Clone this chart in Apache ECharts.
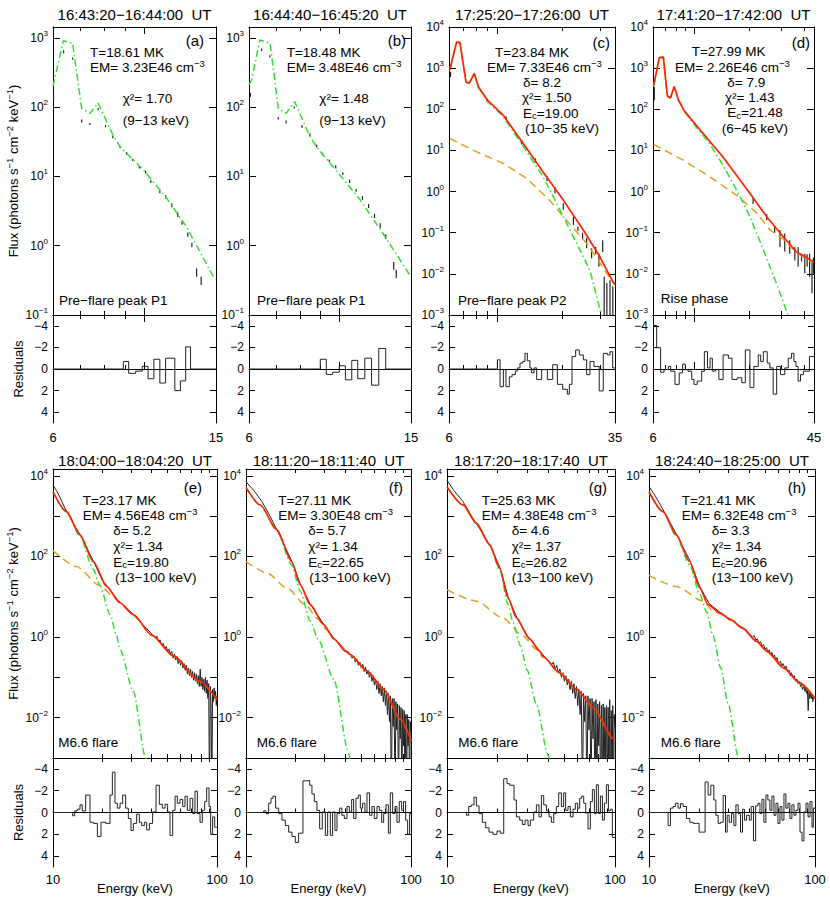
<!DOCTYPE html>
<html><head><meta charset="utf-8">
<script src="https://cdn.jsdelivr.net/npm/echarts@6/dist/echarts.min.js"></script>
<style>html,body{margin:0;padding:0;background:#fff}#c{width:830px;height:903px}</style>
</head><body><div id="c"></div>
<script>
// ---------------- DATA ----------------
const timeRanges = ['16:43:20−16:44:00  UT','16:44:40−16:45:20  UT','17:25:20−17:26:00  UT','17:41:20−17:42:00  UT',
  '18:04:00−18:04:20  UT','18:11:20−18:11:40  UT','18:17:20−18:17:40  UT','18:24:40−18:25:00  UT'];
const panelTags = ['(a)','(b)','(c)','(d)','(e)','(f)','(g)','(h)'];
const phaseLabels = ['Pre−flare peak P1','Pre−flare peak P1','Pre−flare peak P2','Rise phase','M6.6 flare','M6.6 flare','M6.6 flare','M6.6 flare'];
const temps = ['18.61','18.48','23.84','27.99','23.17','27.11','25.63','21.41'];
const ems = ['3.23E46','3.48E46','7.33E46','2.26E46','4.56E48','3.30E48','4.38E48','6.32E48'];
const deltas = [null,null,'8.2','7.9','5.2','5.7','4.6','3.3'];
const chis = ['1.70','1.48','1.50','1.43','1.34','1.34','1.37','1.34'];
const ecs = [null,null,'19.00','21.48','19.80','22.65','26.82','20.96'];
const fitRanges = ['(9−13 keV)','(9−13 keV)','(10−35 keV)','(6−45 keV)','(13−100 keV)','(13−100 keV)','(13−100 keV)','(13−100 keV)'];

// thermal model (green)
const thermA = [[6.0,200],[6.36,908],[6.70,830],[7.05,96],[7.38,81],[7.73,115],[8.4,39.6],[8.75,26.8],[9.97,12.4],[11.3,5.1],[12.7,1.88],[13.7,0.82],[14.7,0.378],[15.0,0.33]];
const thermB = [[6.0,210],[6.09,245],[6.38,930],[6.76,830],[7.08,96],[7.40,81],[7.77,120],[8.39,42],[8.77,27],[9.95,11.1],[11.25,4.6],[12.8,1.5],[14.8,0.4],[15.0,0.36]];
const thermC = [[6.05,880],[6.5,4280],[6.74,4180],[7.19,450],[7.45,430],[7.85,730],[8.21,340],[9.03,155],[10.69,66],[13.2,12.5],[16.3,2.3],[19.9,0.29],[23.3,0.055],[26.8,0.0123],[30.3,0.001],[31,0.0007]];
const thermD = [[6.05,365],[6.49,1790],[6.83,1840],[7.18,203],[7.47,184],[7.82,353],[8.24,166],[8.83,90],[10.3,37],[12.2,14.5],[14.4,4.4],[17.1,1.08],[20.2,0.245],[23.9,0.038],[28.1,0.0059],[32.5,0.001],[33.5,0.0007]];
const thermE = [[10,3900],[12.1,1250],[14.6,320],[17.6,48],[19.3,19],[22.3,3.6],[24.4,1.1],[25.6,0.5],[30.9,0.045],[36.7,0.001],[38,0.0005]];
const thermF = [[10,5100],[12.2,1850],[15.4,440],[18.9,62],[21.3,13.7],[24.5,2.5],[27.5,0.85],[34.0,0.09],[41.9,0.0013],[43,0.0007]];
const thermG = [[10,5300],[12.45,1880],[14.96,660],[17.96,188],[20.6,47],[23.1,6.5],[24.7,2.3],[27.4,0.6],[30,0.15],[34,0.022],[39.9,0.0012],[41,0.0007]];
const thermH = [[10,3900],[12.15,1260],[14.6,320],[17.6,62],[20.2,11.5],[22.2,4.3],[24.3,1.1],[27,0.175],[30,0.022],[34.4,0.0011],[35.5,0.0006]];

// non-thermal model (orange)
const nonthC = [[6.05,19.5],[8.06,9.2],[10.69,4.8],[13.7,2.1],[17.5,0.61],[20.9,0.2],[25.9,0.055],[28.7,0.025],[34.2,0.0062],[35,0.0054]];
const nonthD = [[6.05,14],[8.76,5.8],[12.2,2.3],[17.1,0.81],[22.0,0.3],[26,0.115],[30.6,0.07],[36.2,0.032],[44.7,0.019],[45,0.0188]];
const nonthE = [[10,140],[13.9,56],[19.3,19],[23.9,9.3],[25.9,6.5],[30.9,3.55],[40,1.11],[54.2,0.34],[78.7,0.079],[100,0.028]];
const nonthF = [[10,75],[13.4,39],[17.7,16.5],[23.4,5.8],[27,2.9],[31,1.5],[34,0.88],[42.9,0.36],[54.1,0.143],[68.2,0.05],[86.1,0.0092],[100,0.0027]];
const nonthG = [[10,15],[14.96,7.8],[21.5,3.0],[28.3,1.06],[34,0.5],[37.3,0.32],[46.9,0.13],[58.9,0.051],[74.0,0.018],[98.2,0.003],[100,0.0028]];
const nonthH = [[10,34],[14.6,18],[21.2,7.8],[24.3,4.4],[26.7,3.8],[31,2.65],[36.9,1.62],[44.5,0.77],[51.1,0.44],[65,0.17],[80,0.074],[100,0.03]];

// total model (red)
const totalC = [[6.05,900],[6.5,4300],[6.74,4200],[7.19,460],[7.45,440],[7.85,740],[8.21,350],[9.03,166],[10.69,71],[13.2,14.7],[16.3,3.0],[20.2,0.62],[25.0,0.116],[29.8,0.026],[34.2,0.0065],[35,0.0055]];
const totalD = [[6.05,380],[6.49,1800],[6.83,1850],[7.18,210],[7.47,190],[7.82,360],[8.24,172],[8.83,95],[10.3,41],[14.4,6.9],[20.2,0.9],[24.9,0.245],[30.6,0.08],[36.2,0.034],[44.7,0.02],[45,0.0198]];
const totalE = [[10,4030],[12.1,1290],[14.6,344],[17.6,75],[21.2,18.2],[25.6,7.1],[30.9,3.6],[40,1.12],[54.2,0.34],[78.7,0.079],[100,0.028]];
const totalF = [[10,5180],[12.2,1890],[15.4,457],[18.9,75],[21.3,20],[24.5,6.4],[29.5,2.07],[34.0,0.92],[40.0,0.45],[42.9,0.37],[54.1,0.144],[68.2,0.051],[86.1,0.0093],[100,0.0027]];
const totalG = [[10,5350],[12.45,1900],[14.96,670],[17.96,195],[20.6,51],[23.1,9.3],[25.9,3.0],[31.0,0.9],[35.6,0.45],[37.3,0.33],[46.9,0.13],[58.9,0.051],[74.0,0.018],[98.2,0.003],[100,0.0028]];
const totalH = [[10,4030],[12.15,1290],[14.6,344],[17.6,75],[20.2,16.6],[22.7,6.4],[26.7,4.0],[31,2.7],[36.9,1.65],[44.5,0.78],[51.1,0.45],[65,0.17],[80,0.075],[100,0.03]];

// observed data, error bars [E, low, high]
const barsA = [[6.02,130,150],[6.37,600,660],[6.7,480,520],[7.05,60,66],[7.38,55,59],[7.73,90,97],[8.06,51,55],[8.4,35.5,38.5],[8.75,25.5,27.5],[9.07,20.5,22.5],[9.4,16.5,18],[9.75,13,14.2],[10.1,11,12],[10.4,8,8.8],[10.94,5.7,6.3],[11.3,4.8,5.4],[11.7,3.6,4.1],[12.1,2.6,3.0],[12.4,2.0,2.25],[12.8,1.35,1.55],[13.1,0.95,1.1],[13.45,0.357,0.47],[13.8,0.27,0.357]];
const barsB = [[6.05,140,160],[6.44,640,700],[6.75,520,560],[7.08,66,72],[7.40,58,64],[7.75,95,102],[8.1,50,55],[8.47,38,41.5],[8.8,26,28.5],[9.1,20,22],[9.45,16,17.5],[9.8,13,14.5],[10.2,10.5,11.5],[10.6,8,9],[11.0,6,6.6],[11.4,4.6,5.2],[11.8,3.5,4.0],[12.2,2.5,2.9],[12.6,1.8,2.1],[13.0,1.25,1.45],[13.6,0.45,0.58],[13.8,0.34,0.45]];
const barsC = [[6.1,610,800],[8.2,330,380],[9.0,150,180],[11,55,68],[13,14,18],[15,5,6.5],[17,1.8,2.4],[18.5,0.9,1.3],[20.2,0.36,0.52],[22.5,0.155,0.245],[23.6,0.11,0.14],[24.8,0.07,0.1],[25.9,0.042,0.075],[27.3,0.024,0.042],[28.5,0.03,0.045],[29.5,0.015,0.031],[30.7,0.034,0.066],[31.2,0.001,0.0085],[32.1,0.001,0.006],[33.2,0.001,0.007],[34.2,0.001,0.005]];
const barsD = [[6.1,165,350],[21,0.5,0.7],[24.9,0.2,0.28],[27.5,0.1,0.15],[29.4,0.045,0.116],[31.2,0.035,0.096],[33.2,0.031,0.066],[35.4,0.021,0.045],[36.9,0.015,0.045],[38.5,0.02,0.031],[40.1,0.0103,0.031],[41.3,0.015,0.03],[42.6,0.0085,0.031],[43.9,0.0034,0.0216],[44.7,0.01,0.025]];
// observed data, spectra [E, flux]
const dataE = [[10,5900],[10.5,4300],[11,3000],[11.8,1600],[12.5,1050],[13.5,600],[15,290],[17.6,78],[20,26],[25,8],[30,4.1],[35,2.1],[38,1.5],[40,1.2],[42,0.95],[43,1.05],[44,0.78],[45,0.85],[46,0.62],[47,0.7],[48,0.52],[49,0.58],[50,0.45],[51,0.5],[52,0.38],[53,0.44],[54,0.3],[55,0.38],[56,0.27],[57,0.33],[58,0.22],[59,0.28],[60,0.2],[61,0.26],[62,0.17],[63,0.22],[64,0.15],[65,0.2],[66,0.12],[67,0.17],[68,0.11],[69,0.16],[70,0.1],[71,0.14],[72,0.085],[73,0.13],[74,0.08],[75,0.12],[76,0.07],[77,0.11],[78,0.06],[79,0.16],[80,0.06],[81,0.1],[82,0.05],[83,0.09],[84,0.045],[85,0.1],[86,0.04],[87,0.085],[88,0.03],[89,0.07],[90,0.0001],[91,0.06],[92,0.02],[93,0.0001],[94,0.05],[95,0.025],[96,0.055],[97,0.03],[98,0.045],[99,0.02],[100,0.035]];
const dataF = [[10,7100],[11.1,4440],[12.5,2290],[14,1000],[16,330],[18.9,78],[21.3,21],[24.5,6.6],[29.5,2.1],[34,0.95],[38,0.6],[40,0.47],[42,0.42],[44,0.3],[45,0.34],[46,0.24],[47,0.28],[48,0.2],[49,0.24],[50,0.17],[51,0.21],[52,0.14],[53,0.18],[54,0.12],[55,0.15],[56,0.1],[57,0.13],[58,0.08],[59,0.11],[60,0.065],[61,0.09],[62,0.05],[63,0.08],[64,0.04],[65,0.07],[66,0.035],[67,0.06],[68,0.025],[69,0.055],[70,0.02],[71,0.045],[72,0.012],[73,0.04],[74,0.008],[75,0.035],[76,0.0001],[77,0.03],[78,0.006],[79,0.03],[80,0.0001],[81,0.025],[82,0.005],[83,0.022],[84,0.0001],[85,0.02],[86,0.003],[87,0.018],[88,0.0001],[89,0.016],[90,0.002],[91,0.015],[92,0.0001],[93,0.012],[94,0.0001],[95,0.012],[96,0.002],[97,0.009],[98,0.0001],[99,0.008],[100,0.004]];
const dataG = [[10,7800],[11,4300],[12.45,2300],[14,1000],[16,420],[18,190],[20.6,55],[23.1,10],[26,3.1],[30,1.1],[35,0.5],[38,0.33],[40,0.27],[42,0.21],[43,0.24],[44,0.16],[45,0.2],[46,0.13],[47,0.16],[48,0.1],[49,0.13],[50,0.08],[51,0.11],[52,0.065],[53,0.09],[54,0.05],[55,0.08],[56,0.04],[57,0.07],[58,0.03],[59,0.06],[60,0.02],[61,0.05],[62,0.012],[63,0.045],[64,0.0001],[65,0.04],[66,0.008],[67,0.035],[68,0.0001],[69,0.035],[70,0.005],[71,0.03],[72,0.0001],[73,0.03],[74,0.003],[75,0.025],[76,0.0001],[77,0.028],[78,0.0001],[79,0.022],[80,0.002],[81,0.025],[82,0.0001],[83,0.02],[84,0.0001],[85,0.022],[86,0.0001],[87,0.018],[88,0.001],[89,0.02],[90,0.0001],[91,0.018],[92,0.0001],[93,0.028],[94,0.0001],[95,0.015],[96,0.0001],[97,0.02],[98,0.0001],[99,0.012],[100,0.006]];
const dataH = [[10,5500],[11,3000],[12.15,1450],[14.6,360],[17.6,80],[20.2,18],[23,6.8],[27,4.0],[32,2.5],[37,1.65],[40,1.15],[42,1.0],[43,1.1],[44,0.85],[45,0.9],[46,0.72],[47,0.78],[48,0.6],[49,0.65],[50,0.5],[51,0.55],[52,0.42],[53,0.48],[54,0.36],[55,0.42],[56,0.32],[57,0.36],[58,0.27],[59,0.31],[60,0.23],[62,0.25],[63,0.19],[64,0.22],[66,0.17],[67,0.19],[68,0.14],[70,0.15],[71,0.11],[72,0.13],[74,0.1],[75,0.11],[76,0.085],[78,0.09],[79,0.07],[80,0.08],[82,0.06],[83,0.07],[84,0.05],[86,0.06],[87,0.045],[88,0.055],[89,0.04],[90,0.05],[91,0.015],[92,0.045],[93,0.03],[94,0.04],[95,0.03],[96,0.038],[97,0.025],[98,0.035],[99,0.03],[100,0.033]];

// residuals: [bin start energy, residual]
const residA = [[6,0],[8.91,-0.7],[9.18,0.4],[9.55,0.2],[9.91,-0.25],[10.24,0.9],[10.58,-0.9],[10.94,1.3],[11.30,-1.0],[11.90,2.0],[12.28,1.1],[12.65,-2.05],[13.0,0],[15,0]];
const residB = [[6,0],[8.98,-0.9],[9.29,0.5],[9.63,0.3],[10.0,-0.3],[10.35,1.0],[10.73,-0.8],[11.1,0.9],[11.55,-1.0],[12.0,1.5],[12.5,-1.9],[13.0,0],[15,0]];
const residC = [[6,0],[10.03,-0.85],[10.32,1.64],[10.69,0.06],[10.99,1.64],[11.39,0.73],[11.72,0.52],[12.14,0.2],[12.40,-0.1],[12.76,-0.55],[13.12,-0.7],[13.45,-1.45],[13.79,-0.76],[14.18,-0.1],[14.44,0.36],[14.80,-0.1],[15.23,0.97],[16.06,0.06],[17.06,0.97],[18.06,-0.4],[18.97,1.42],[20.07,1.88],[21.1,2.33],[21.55,1.42],[22.17,-1.15],[23.05,-1.76],[23.96,-1.3],[25.0,-0.85],[25.9,0.52],[26.84,-0.7],[28.0,-0.24],[29.6,2.03],[30.9,-1.45],[32.3,-1.3],[33.2,-1.6],[34.15,-0.1],[35,-0.1]];
const residD = [[6.0,-4.03],[6.28,-1.97],[6.60,0.3],[6.89,0.06],[7.27,-0.24],[7.48,0.2],[7.90,1.42],[8.33,0.36],[8.69,-0.45],[8.99,0.06],[9.30,0.21],[9.74,0.97],[10.02,1.42],[10.43,1.12],[11.03,0.21],[11.41,-1.6],[11.87,-0.1],[12.25,-1.0],[12.61,0.2],[13.08,0.06],[13.68,0.97],[14.43,-1.3],[15.41,-1.0],[16.13,0.97],[17.19,0.82],[18.24,1.27],[19.05,-1.76],[20.19,1.73],[21.2,-0.24],[22.4,-1.3],[23.08,-0.7],[23.86,-1.6],[25.06,-0.55],[25.9,-0.1],[27.0,2.33],[28.2,-0.24],[29.6,0.52],[31.2,-0.1],[32.6,-1.0],[34.0,-1.45],[35.0,-0.7],[35.9,-0.24],[36.9,1.12],[38.0,0.52],[39.4,0.2],[42.5,-1.15],[45,-1.15]];
const residE = [[10,0],[13.18,0.3],[13.56,-0.15],[14.07,-0.3],[14.61,-0.7],[15.09,-0.15],[15.82,-1.6],[16.81,0.9],[17.62,1.0],[18.64,2.2],[19.62,0.9],[21.05,1.0],[22.27,-1.6],[23.01,-3.7],[23.88,-0.85],[24.68,-0.4],[25.62,-0.85],[26.6,-1.6],[27.74,-0.4],[28.8,0.55],[29.9,1.65],[30.89,1.0],[32.37,0.15],[33.6,0.9],[34.73,1.2],[36.06,0.9],[37.26,1.6],[38.7,1.0],[40.5,-0.05],[42.5,-2.5],[44.5,-0.75],[46.4,-0.4],[48.2,-0.75],[50.0,-0.05],[51.7,2.1],[53.7,-0.2],[55.5,-1.5],[57.3,-0.85],[59.5,-1.2],[61.8,-0.55],[63.8,-1.5],[65.9,-0.2],[68.5,-1.3],[71.1,0.1],[73.4,-1.95],[75.9,0.1],[78.8,0.9],[81.4,-0.2],[84.1,-1.0],[86.5,-2.25],[89.4,-0.55],[91.5,2.0],[94.1,0.4],[96.8,1.35],[100,1.35]];
const residF = [[10,0],[12.79,-0.15],[13.21,0.1],[13.72,-0.85],[14.17,-1.3],[14.57,-1.5],[15.12,-0.4],[15.77,0.1],[16.52,0.7],[17.31,1.2],[18.13,1.8],[18.99,2.2],[19.9,2.75],[20.84,1.9],[22.14,-2.9],[23.42,-2.95],[24.3,-2.5],[25.1,-1.7],[25.94,-1.0],[26.92,-0.2],[27.95,1.5],[29.0,-0.05],[30.25,2.1],[31.25,-0.05],[32.43,2.1],[33.5,-0.05],[34.6,1.65],[35.6,0.1],[36.94,-0.4],[38.16,0.25],[39.43,0.55],[40.92,-0.55],[42.28,-0.05],[43.68,-1.2],[44.91,0.55],[46.4,-1.3],[47.94,-1.6],[49.3,-0.4],[50.9,-0.85],[52.6,-0.05],[54.1,-1.8],[56.1,0.25],[58.0,-0.55],[59.9,0.55],[62.2,-0.55],[64.3,-0.2],[66.4,0.9],[68.3,0.1],[70.5,-0.7],[72.9,1.9],[74.9,-1.8],[77.4,0.1],[80.0,-0.55],[82.2,0.9],[84.9,-1.0],[87.8,-0.2],[90.2,-1.0],[92.8,0.7],[95.4,2.0],[98.1,0.1],[100,0.1]];
const residG = [[10,0],[13.04,0.25],[13.47,-0.55],[13.96,-0.7],[14.48,-1.4],[14.96,-0.6],[15.51,0.1],[16.23,0.9],[17.0,1.4],[17.79,1.8],[18.79,2.0],[19.86,1.7],[20.78,1.9],[21.76,-3.1],[22.77,-2.65],[23.62,-2.5],[25.06,-1.15],[25.87,0.4],[27.08,0.7],[28.09,1.1],[29.14,0.7],[30.36,1.2],[31.35,0.7],[32.82,-0.05],[34.04,-0.7],[35.3,0.4],[36.45,-1.55],[37.64,-0.7],[39.05,-0.15],[40.5,0.4],[41.82,0.9],[43.18,0.1],[44.77,-0.55],[46.23,-1.8],[47.94,-0.55],[49.5,-1.8],[50.87,-0.2],[52.53,-0.55],[54.24,0.4],[56.26,-0.3],[58.09,-0.85],[59.98,-0.4],[61.64,-1.3],[63.36,-1.5],[65.12,-0.85],[66.93,0.05],[69.1,1.5],[71.35,-1.0],[73.33,-2.1],[75.37,0.1],[77.47,-2.55],[79.6,0.1],[81.85,-1.5],[84.12,0.7],[86.46,-0.85],[88.86,-2.55],[91.32,-0.15],[93.85,-0.3],[96.45,2.3],[100,2.3]];
const residH = [[10,0],[13.03,1.2],[13.46,-0.4],[13.96,-0.55],[14.42,-0.85],[14.97,-0.4],[15.46,-0.8],[16.05,-0.55],[16.81,0.55],[17.61,0.9],[18.44,1.0],[19.31,1.0],[20.04,1.8],[20.99,1.8],[21.78,-2.8],[22.71,-1.6],[23.57,-2.5],[24.58,-1.15],[25.27,0.25],[26.1,1.0],[26.96,0.9],[27.98,-1.55],[28.9,1.8],[29.58,0.25],[30.41,0.9],[31.42,0.1],[32.45,1.2],[33.37,-0.7],[34.46,0.1],[35.6,1.8],[36.6,-0.3],[37.6,0.7],[38.7,0.25],[40.2,0.7],[41.3,-0.55],[42.6,2.6],[43.9,-0.6],[45.3,-0.85],[46.6,0.1],[47.9,-1.2],[49.2,0.9],[50.6,-1.6],[52.0,-1.15],[53.5,-0.2],[55.0,-1.5],[56.6,0.25],[58.2,-0.85],[59.8,1.0],[61.5,-0.55],[63.2,0.7],[65.0,-1.7],[66.8,-0.4],[68.7,-0.85],[70.6,0.55],[72.6,-0.7],[74.7,0.25],[76.8,-0.2],[79.0,-0.85],[81.2,1.8],[83.5,2.6],[85.8,-0.05],[88.3,-0.85],[90.8,0.4],[93.3,-1.0],[95.9,1.35],[97.7,-0.4],[100,-0.4]];

// axis tick values
const xTicksTop = { major:[10], minorAB:[7,8,9], minorC:[7,8,9,20,30], minorD:[7,8,9,20,30,40] };
const xTicksBottom = { major:[10,100], minor:[20,30,40,50,60,70,80,90] };
const yDecTop = [0.1,1,10,100,1000];
const yDecWide = [0.001,0.01,0.1,1,10,100,1000,10000];
const yLabBottom = [0.01,1,100,10000];
const residTicks = [-4,-2,0,2,4];

// ---------------- LAYOUT / STYLE ----------------
const FONT = "'Liberation Sans', Arial, Helvetica, sans-serif";
const C_GREEN = '#2ee02e', C_ORANGE = '#e0a020', C_RED = '#ff2200', C_DATA = '#222';
const panels = [
  {l:53,r:216,row:0,xmin:6,xmax:15,xMaj:xTicksTop.major,xMin:xTicksTop.minorAB,xLab:[6,15],ymin:0.1,ymax:1430,yT:yDecTop,yL:yDecTop,therm:thermA,bars:barsA,resid:residA},
  {l:249,r:411,row:0,xmin:6,xmax:15,xMaj:xTicksTop.major,xMin:xTicksTop.minorAB,xLab:[6,15],ymin:0.1,ymax:1430,yT:yDecTop,yL:yDecTop,therm:thermB,bars:barsB,resid:residB},
  {l:449,r:615,row:0,xmin:6,xmax:35,xMaj:xTicksTop.major,xMin:xTicksTop.minorC,xLab:[6,35],ymin:0.001,ymax:10000,yT:yDecWide,yL:yDecWide,therm:thermC,nonth:nonthC,total:totalC,bars:barsC,resid:residC},
  {l:653,r:814,row:0,xmin:6,xmax:45,xMaj:xTicksTop.major,xMin:xTicksTop.minorD,xLab:[6,45],ymin:0.001,ymax:10000,yT:yDecWide,yL:yDecWide,therm:thermD,nonth:nonthD,total:totalD,bars:barsD,resid:residD},
  {l:53,r:217,row:1,xmin:10,xmax:100,xMaj:xTicksBottom.major,xMin:xTicksBottom.minor,xLab:[10,100],ymin:0.001,ymax:14800,yT:yDecWide,yL:yLabBottom,therm:thermE,nonth:nonthE,total:totalE,data:dataE,resid:residE},
  {l:246,r:411,row:1,xmin:10,xmax:100,xMaj:xTicksBottom.major,xMin:xTicksBottom.minor,xLab:[10,100],ymin:0.001,ymax:14800,yT:yDecWide,yL:yLabBottom,therm:thermF,nonth:nonthF,total:totalF,data:dataF,resid:residF},
  {l:447,r:615,row:1,xmin:10,xmax:100,xMaj:xTicksBottom.major,xMin:xTicksBottom.minor,xLab:[10,100],ymin:0.001,ymax:14800,yT:yDecWide,yL:yLabBottom,therm:thermG,nonth:nonthG,total:totalG,data:dataG,resid:residG},
  {l:649,r:815,row:1,xmin:10,xmax:100,xMaj:xTicksBottom.major,xMin:xTicksBottom.minor,xLab:[10,100],ymin:0.001,ymax:14800,yT:yDecWide,yL:yLabBottom,therm:thermH,nonth:nonthH,total:totalH,data:dataH,resid:residH}
];
const rows = [ {mainTop:27, mainBot:315, resBot:423, titleY:14, xLabMargin:8},
               {mainTop:469, mainBot:758, resBot:867, titleY:460, xLabMargin:6} ];
const annot = [
  {T:[90,52],EM:[90,67],chi:[122.7,98],rng:[122.7,120],tag:[204,40],ph:[59,300]},
  {T:[286.7,52],EM:[286.7,67],chi:[319.3,98],rng:[319.3,120],tag:[406,40],ph:[257,300]},
  {T:[495,52],EM:[487,67.5],dl:[523,82.5],chi:[522,97.5],ec:[523,113],rng:[525,128.5],tag:[610,42],ph:[458,300]},
  {T:[691.7,51.5],EM:[675,67],dl:[727.3,82],chi:[725,97],ec:[727.3,112.5],rng:[721.7,128],tag:[810,42],ph:[660.7,298]},
  {T:[82.7,500],EM:[82.7,515.5],dl:[113.3,530.5],chi:[113.3,546],ec:[113.3,562],rng:[115,577.5],tag:[202,487],ph:[58.3,742.3]},
  {T:[278.3,500],EM:[278.3,515.5],dl:[308.3,530.5],chi:[308.3,546],ec:[308.3,562],rng:[309.3,577.5],tag:[403,487],ph:[256.7,742.3]},
  {T:[481.7,500],EM:[481.7,515.5],dl:[511.7,530.5],chi:[511.7,546],ec:[511.7,562],rng:[511.7,577.5],tag:[607,487],ph:[458.3,742.3]},
  {T:[681.7,500],EM:[681.7,515.5],dl:[711.7,530.5],chi:[711.7,546],ec:[711.7,562],rng:[711.7,577.5],tag:[806,487],ph:[660.7,742.3]}
];

// ---------------- BUILD ----------------
const grids = [], xAxes = [], yAxes = [], series = [], graphics = [];
const axLine = {show:true, lineStyle:{color:'#000', width:1}};
const tickStyle = {color:'#000', width:1};
const RICH = {
  b:{fontSize:12, fontFamily:FONT, color:'#000'},
  s:{fontSize:8, fontFamily:FONT, color:'#000', padding:[0,0,9,0]}
};
function supLabel(v){ const e=Math.round(Math.log10(v)); return '{b|10}{s|'+(e<0?'−'+(-e):e)+'}'; }

function addXAxes(gi, p, showLab, margin){
  const common = {type:'log', logBase:10, gridIndex:gi, min:p.xmin, max:p.xmax, splitLine:{show:false}, axisPointer:{show:false}};
  xAxes.push(Object.assign({}, common, {position:'bottom', axisLine:axLine,
    axisTick:{show:true, inside:true, length:7, customValues:p.xMaj, lineStyle:tickStyle},
    axisLabel:{show:showLab, customValues:p.xLab, margin:margin, color:'#000', fontSize:13, fontFamily:FONT, formatter:v=>String(Math.round(v))}}));
  xAxes.push(Object.assign({}, common, {position:'bottom', axisLine:{show:false},
    axisTick:{show:true, inside:true, length:4, customValues:p.xMin, lineStyle:tickStyle}, axisLabel:{show:false}}));
  xAxes.push(Object.assign({}, common, {position:'top', axisLine:axLine,
    axisTick:{show:true, inside:true, length:7, customValues:p.xMaj, lineStyle:tickStyle}, axisLabel:{show:false}}));
  xAxes.push(Object.assign({}, common, {position:'top', axisLine:{show:false},
    axisTick:{show:true, inside:true, length:4, customValues:p.xMin, lineStyle:tickStyle}, axisLabel:{show:false}}));
  return xAxes.length - 4;
}

const TEXT_RICH = {
  sup:{fontSize:9.5, fontFamily:FONT, fill:'#000', padding:[0,0,8,0]},
  sub:{fontSize:9.5, fontFamily:FONT, fill:'#000', padding:[5,0,0,0]}
};
function addText(x, y, text, o){
  o = o || {};
  graphics.push({type:'text', x:x, y:y, rotation:o.rot||0, silent:true,
    style:{text:text, fill:'#000', fontSize:o.size||13.5, fontFamily:FONT,
      align:o.align||'left', verticalAlign:'middle', rich:TEXT_RICH}});
}

panels.forEach((p, i) => {
  const R = rows[p.row];
  const gMain = grids.length;
  grids.push({left:p.l, top:R.mainTop, width:p.r-p.l, height:R.mainBot-R.mainTop, containLabel:false});
  const xm = addXAxes(gMain, p, false, 0);
  const ym = yAxes.length;
  yAxes.push({type:'log', logBase:10, gridIndex:gMain, position:'left', min:p.ymin, max:p.ymax, splitLine:{show:false},
    axisLine:axLine, axisTick:{show:true, inside:true, length:7, customValues:p.yT, lineStyle:tickStyle},
    axisLabel:{show:true, customValues:p.yL, margin:5, formatter:supLabel, rich:RICH}});
  yAxes.push({type:'log', logBase:10, gridIndex:gMain, position:'right', min:p.ymin, max:p.ymax, splitLine:{show:false},
    axisLine:axLine, axisTick:{show:true, inside:true, length:7, customValues:p.yT, lineStyle:tickStyle}, axisLabel:{show:false}});

  const base = {xAxisIndex:xm, yAxisIndex:ym, symbol:'none', silent:true, clip:true, animation:false};
  if (p.bars) {
    series.push(Object.assign({}, base, {type:'custom', data:p.bars, encode:{x:0, y:[1,2]},
      renderItem:(params, api) => {
        const a = api.coord([api.value(0), api.value(1)]);
        const b = api.coord([api.value(0), api.value(2)]);
        return {type:'line', shape:{x1:a[0], y1:a[1], x2:b[0], y2:b[1]}, style:{stroke:C_DATA, lineWidth:1.2}};
      }}));
  }
  if (p.data) {
    series.push(Object.assign({}, base, {type:'line', data:p.data, lineStyle:{color:C_DATA, width:1}}));
  }
  const sm = p.row === 1 ? 0.25 : false;
  if (p.nonth) series.push(Object.assign({}, base, {type:'line', data:p.nonth, smooth:sm, smoothMonotone:'x', lineStyle:{color:C_ORANGE, width:1.5, type:[8,5]}}));
  series.push(Object.assign({}, base, {type:'line', data:p.therm, smooth:sm, smoothMonotone:'x', lineStyle:{color:C_GREEN, width:1.5, type:[7,3,1.5,3]}}));
  if (p.total) series.push(Object.assign({}, base, {type:'line', data:p.total, smooth:sm, smoothMonotone:'x', lineStyle:{color:C_RED, width:1.7}}));

  const gRes = grids.length;
  grids.push({left:p.l, top:R.mainBot, width:p.r-p.l, height:R.resBot-R.mainBot, containLabel:false});
  const xr = addXAxes(gRes, p, true, R.xLabMargin);
  const yr = yAxes.length;
  yAxes.push({type:'value', gridIndex:gRes, position:'left', min:-5, max:5, inverse:true, splitLine:{show:false},
    axisLine:axLine, axisTick:{show:true, inside:true, length:6, customValues:residTicks, lineStyle:tickStyle},
    axisLabel:{show:true, customValues:residTicks, margin:5, color:'#000', fontSize:12, fontFamily:FONT, formatter:v=>(v<0?'−'+(-v):String(v))}});
  yAxes.push({type:'value', gridIndex:gRes, position:'right', min:-5, max:5, inverse:true, splitLine:{show:false},
    axisLine:axLine, axisTick:{show:true, inside:true, length:6, customValues:residTicks, lineStyle:tickStyle}, axisLabel:{show:false}});
  series.push({type:'line', xAxisIndex:xr, yAxisIndex:yr, data:p.resid, step:'end', symbol:'none', silent:true, animation:false,
    lineStyle:{color:'#222', width:1}});

  const cx = (p.l + p.r) / 2;
  const A = annot[i];
  addText(cx, R.titleY, timeRanges[i], {size:15, align:'center'});
  addText(A.tag[0], A.tag[1], panelTags[i], {size:15, align:'right'});
  addText(A.T[0], A.T[1], 'T=' + temps[i] + ' MK');
  addText(A.EM[0], A.EM[1], 'EM= ' + ems[i] + ' cm{sup|−3}');
  if (deltas[i]) addText(A.dl[0], A.dl[1], 'δ= ' + deltas[i]);
  addText(A.chi[0], A.chi[1], 'χ²= ' + chis[i]);
  if (ecs[i]) addText(A.ec[0], A.ec[1], 'E{sub|c}=' + ecs[i]);
  addText(A.rng[0], A.rng[1], fitRanges[i]);
  addText(A.ph[0], A.ph[1], phaseLabels[i]);
  if (p.row === 1) addText(cx, 888, 'Energy (keV)', {size:13, align:'center'});
  if (i === 0 || i === 4) {
    addText(13.5, (R.mainTop + R.mainBot) / 2, 'Flux (photons s{sup|−1} cm{sup|−2} keV{sup|−1})', {size:13, rot:Math.PI/2, align:'center'});
    addText(18, (R.mainBot + R.resBot) / 2, 'Residuals', {size:13, rot:Math.PI/2, align:'center'});
  }
});

const chart = echarts.init(document.getElementById('c'), null, {renderer:'svg', width:830, height:903});
chart.setOption({
  animation:false, backgroundColor:'#fff',
  textStyle:{fontFamily:FONT, color:'#000'},
  grid:grids, xAxis:xAxes, yAxis:yAxes, series:series, graphic:graphics
});
</script></body></html>
